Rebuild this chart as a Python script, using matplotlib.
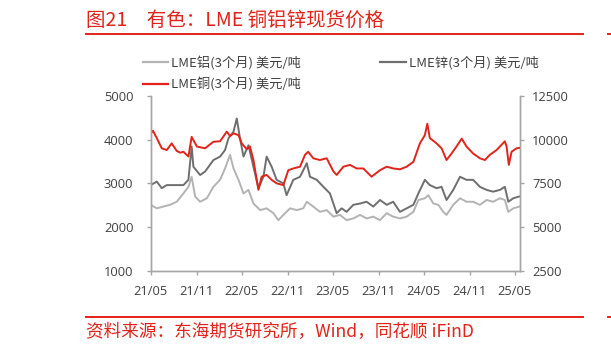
import matplotlib
matplotlib.use("Agg")
import matplotlib.pyplot as plt
import pandas as pd
from matplotlib.lines import Line2D

plt.rcParams['font.family'] = ['Noto Sans CJK SC', 'DejaVu Sans']

# LME copper 3M, USD/t (right axis)
cu_dates = ["2021-05-01", "2021-05-10", "2021-05-25", "2021-06-14", "2021-07-04", "2021-07-24",
            "2021-08-13", "2021-08-27", "2021-09-09", "2021-09-29", "2021-10-12", "2021-11-02",
            "2021-12-05", "2022-01-07", "2022-02-03", "2022-03-02", "2022-03-15", "2022-03-29",
            "2022-04-18", "2022-05-01", "2022-05-21", "2022-06-03", "2022-06-17", "2022-07-07",
            "2022-07-20", "2022-08-09", "2022-08-29", "2022-09-18", "2022-10-15", "2022-11-04",
            "2022-11-24", "2022-12-21", "2023-01-10", "2023-01-23", "2023-02-12", "2023-03-11",
            "2023-04-07", "2023-05-04", "2023-05-17", "2023-06-13", "2023-07-10", "2023-08-05",
            "2023-09-01", "2023-10-04", "2023-11-07", "2023-12-04", "2023-12-30", "2024-01-26",
            "2024-02-22", "2024-03-20", "2024-04-15", "2024-05-05", "2024-05-15", "2024-05-25",
            "2024-06-21", "2024-07-11", "2024-07-31", "2024-08-20", "2024-09-09", "2024-09-30",
            "2024-10-19", "2024-11-15", "2024-12-12", "2025-01-01", "2025-01-21", "2025-02-17",
            "2025-03-22", "2025-03-29", "2025-04-07", "2025-04-18", "2025-05-08", "2025-05-19"]
cu_vals = [10350, 10500, 10080, 9500, 9400, 9780, 9350, 9250, 9300, 9030, 10150, 9600,
           9500, 9870, 9900, 10450, 10200, 10350, 10250, 9780, 9450, 9600, 8830, 7130,
           7880, 7980, 7700, 7500, 7400, 8250, 8350, 8450, 9130, 9300, 8930, 8830,
           8930, 8180, 7980, 8450, 8550, 8350, 8350, 7880, 8250, 8450, 8350, 8300,
           8450, 8730, 9780, 10250, 10900, 10080, 9780, 9500, 8830, 9200, 9600, 10050,
           9600, 9200, 8930, 8830, 9130, 9400, 9900, 9600, 8550, 9300, 9500, 9520]

# LME zinc 3M, USD/t (left axis)
zn_dates = ["2021-05-01", "2021-05-25", "2021-06-14", "2021-07-04", "2021-08-13", "2021-09-09",
            "2021-09-29", "2021-10-12", "2021-10-19", "2021-11-15", "2021-12-05", "2022-01-07",
            "2022-02-03", "2022-02-23", "2022-03-09", "2022-03-29", "2022-04-11", "2022-04-24",
            "2022-05-08", "2022-05-28", "2022-06-17", "2022-07-07", "2022-07-27", "2022-08-09",
            "2022-08-29", "2022-09-18", "2022-10-15", "2022-10-28", "2022-11-24", "2022-12-21",
            "2023-01-17", "2023-01-30", "2023-02-26", "2023-03-25", "2023-04-20", "2023-05-17",
            "2023-06-06", "2023-06-26", "2023-07-23", "2023-08-19", "2023-09-14", "2023-10-11",
            "2023-11-07", "2023-12-04", "2023-12-30", "2024-01-26", "2024-02-22", "2024-03-20",
            "2024-04-09", "2024-05-05", "2024-05-25", "2024-06-21", "2024-07-11", "2024-07-31",
            "2024-08-27", "2024-09-23", "2024-10-19", "2024-11-15", "2024-12-12", "2025-01-08",
            "2025-02-03", "2025-03-02", "2025-03-22", "2025-04-05", "2025-04-25", "2025-05-19"]
zn_vals = [2960, 3040, 2890, 2960, 2960, 2960, 3080, 3840, 3380, 3190, 3270, 3530,
           3610, 3760, 4030, 4180, 4480, 4030, 3610, 3870, 3380, 2890, 3150, 3610,
           3380, 3080, 3000, 2730, 3080, 3150, 3460, 3150, 3080, 2920, 2770, 2320,
           2430, 2350, 2510, 2540, 2580, 2470, 2620, 2510, 2580, 2350, 2430, 2510,
           2770, 3080, 2960, 2890, 2920, 2620, 2850, 3150, 3080, 3080, 2920, 2850,
           2810, 2850, 2920, 2580, 2660, 2700]

# LME aluminium 3M, USD/t (left axis)
al_dates = ["2021-05-01", "2021-05-25", "2021-06-20", "2021-07-17", "2021-08-13", "2021-09-09",
            "2021-09-29", "2021-10-12", "2021-10-26", "2021-11-15", "2021-12-12", "2022-01-07",
            "2022-02-03", "2022-02-23", "2022-03-15", "2022-03-29", "2022-04-18", "2022-05-08",
            "2022-05-28", "2022-06-17", "2022-07-14", "2022-08-09", "2022-09-05", "2022-09-25",
            "2022-10-15", "2022-11-11", "2022-12-08", "2023-01-03", "2023-01-17", "2023-02-12",
            "2023-03-11", "2023-04-07", "2023-05-04", "2023-05-30", "2023-06-26", "2023-07-23",
            "2023-08-19", "2023-09-14", "2023-10-11", "2023-11-07", "2023-12-04", "2023-12-30",
            "2024-01-26", "2024-02-22", "2024-03-20", "2024-04-09", "2024-05-05", "2024-05-19",
            "2024-06-08", "2024-06-28", "2024-07-18", "2024-07-31", "2024-08-27", "2024-09-23",
            "2024-10-19", "2024-11-15", "2024-12-12", "2025-01-08", "2025-02-03", "2025-03-02",
            "2025-03-22", "2025-04-05", "2025-04-25", "2025-05-19"]
al_vals = [2510, 2430, 2470, 2510, 2580, 2770, 2920, 3150, 2700, 2580, 2660, 2920,
           3080, 3340, 3650, 3340, 3080, 2770, 2850, 2540, 2390, 2430, 2320, 2160,
           2280, 2430, 2390, 2430, 2580, 2470, 2350, 2390, 2240, 2280, 2160, 2200,
           2280, 2200, 2240, 2160, 2320, 2240, 2200, 2240, 2350, 2620, 2660, 2730,
           2540, 2510, 2350, 2280, 2510, 2660, 2580, 2580, 2510, 2620, 2580, 2660,
           2620, 2350, 2430, 2470]

tick_dates = ["2021-05-01", "2021-11-01", "2022-05-01", "2022-11-01", "2023-05-01",
              "2023-11-01", "2024-05-01", "2024-11-01", "2025-05-01"]
tick_labels = ["21/05", "21/11", "22/05", "22/11", "23/05", "23/11", "24/05", "24/11", "25/05"]

red = "#e2231a"
grey_lt = "#b3b3b3"
grey_dk = "#6e6e6e"
spine_c = "#a6a6a6"
txt_c = "#404040"
tick_font = ["Open Sans", "DejaVu Sans"]

fig = plt.figure(figsize=(6.11, 3.5), dpi=100)
ax = fig.add_axes([0.2468, 0.2257, 0.6035, 0.5009])
ax2 = ax.twinx()

ax.plot(pd.to_datetime(al_dates), al_vals, color=grey_lt, lw=1.4)
ax.plot(pd.to_datetime(zn_dates), zn_vals, color=grey_dk, lw=1.4)
ax2.plot(pd.to_datetime(cu_dates), cu_vals, color=red, lw=1.4)

ax.set_xlim(pd.Timestamp("2021-05-01"), pd.Timestamp("2025-05-20"))
ax.set_ylim(1000, 5000)
ax.set_yticks(range(1000, 5001, 1000))
ax2.set_ylim(2500, 12500)
ax2.set_yticks(range(2500, 12501, 2500))
ax.set_xticks(pd.to_datetime(tick_dates))
ax.set_xticklabels(tick_labels)

for a in (ax, ax2):
    a.spines['top'].set_visible(False)
    for s in ('left', 'right', 'bottom'):
        a.spines[s].set_color(spine_c)
        a.spines[s].set_linewidth(1.0)
    a.tick_params(colors=spine_c, labelcolor=txt_c, length=3, width=1.0)
    for lab in a.get_yticklabels() + a.get_xticklabels():
        lab.set_family(tick_font)
        lab.set_fontsize(9.3)
ax.tick_params(axis='y', pad=9.5)
ax.tick_params(axis='x', pad=7)
ax2.tick_params(axis='y', pad=6)

handles = [Line2D([], [], color=grey_lt, lw=1.6),
           Line2D([], [], color=red, lw=1.6),
           Line2D([], [], color=grey_dk, lw=1.6)]
labels = ["LME铝(3个月) 美元/吨", "LME铜(3个月) 美元/吨", "LME锌(3个月) 美元/吨"]
fig.legend(handles, labels, ncol=2, loc='upper left', bbox_to_anchor=(0.2336, 0.842),
           frameon=False, borderpad=0, borderaxespad=0, handlelength=1.95, handletextpad=0.2,
           columnspacing=6.0, labelspacing=0.6, prop={'size': 9.5}, labelcolor=txt_c)

# header / footer
fig.text(0.1408, 1 - 20 / 350, "图21\u3000有色：LME 铜铝锌现货价格", color=red, fontsize=14,
         fontweight='medium', va='center', ha='left')
fig.add_artist(Line2D([86 / 611, 583 / 611], [1 - 34.3 / 350] * 2, color=red, lw=1.4))
fig.add_artist(Line2D([86 / 611, 583 / 611], [1 - 316.7 / 350] * 2, color=red, lw=1.4))
fig.add_artist(Line2D([608 / 611, 1.0], [1 - 34.3 / 350] * 2, color=red, lw=1.4))
fig.add_artist(Line2D([608 / 611, 1.0], [1 - 316.7 / 350] * 2, color=red, lw=1.4))
fig.text(0.1408, 1 - 331.7 / 350, "资料来源：东海期货研究所，Wind，同花顺 iFinD", color=red,
         fontsize=12.7, va='center', ha='left')

fig.savefig("out.png", dpi=100)
